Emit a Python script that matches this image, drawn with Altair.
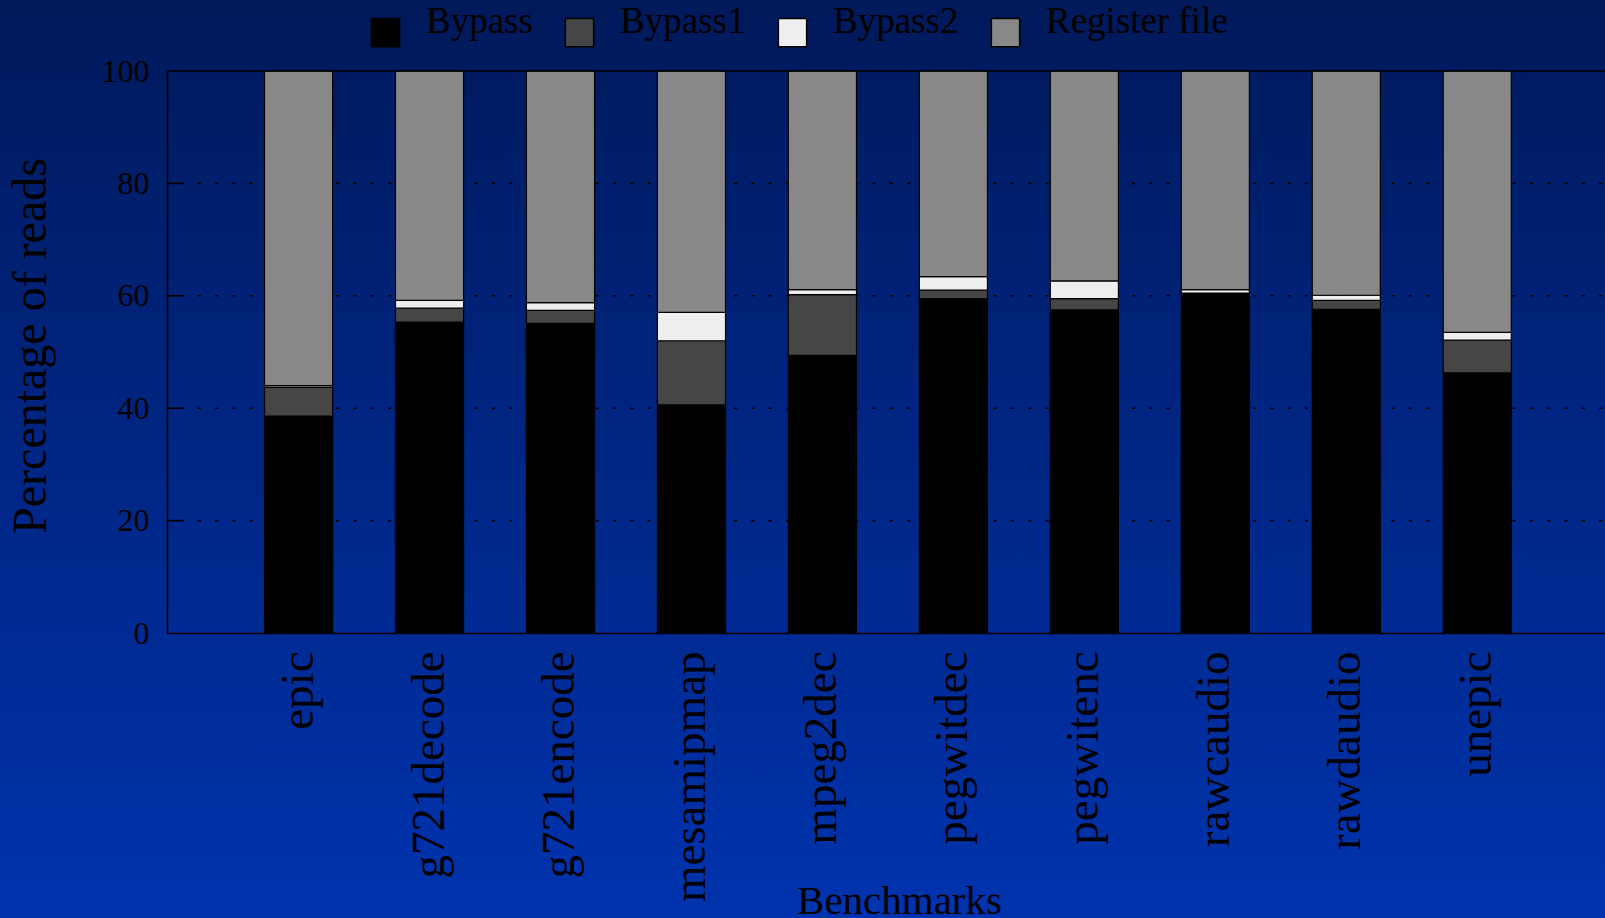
import altair as alt
import pandas as pd

benchmarks = ["epic", "g721decode", "g721encode", "mesamipmap", "mpeg2dec",
              "pegwitdec", "pegwitenc", "rawcaudio", "rawdaudio", "unepic"]
series = ["Bypass", "Bypass1", "Bypass2", "Register file"]
bypass = [38.6, 55.3, 55.1, 40.6, 49.4, 59.5, 57.5, 60.4, 57.6, 46.3]
bypass1 = [5.1, 2.5, 2.3, 11.4, 10.8, 1.5, 2.0, 0.1, 1.6, 5.8]
bypass2 = [0.3, 1.4, 1.4, 5.05, 0.9, 2.4, 3.15, 0.6, 0.9, 1.4]
register_file = [56.0, 40.8, 41.2, 42.95, 38.9, 36.6, 37.35, 38.9, 39.9, 46.5]
colors = ["#000000", "#464646", "#eeeeee", "#888888"]
grid_values = [20, 40, 60, 80]
y_ticks = [0, 20, 40, 60, 80, 100]

FONT = "Liberation Serif"
W, H = 1438, 562
PAD_L, PAD_T = 167, 71

rows = []
for s_i, (name, vals) in enumerate(zip(series, [bypass, bypass1, bypass2, register_file])):
    for b, v in zip(benchmarks, vals):
        rows.append({"benchmark": b, "series": name, "value": v, "order": s_i})
df = pd.DataFrame(rows)

bg = alt.Chart(pd.DataFrame({"a": [0]})).mark_rect(
    fill=alt.Gradient(
        gradient="linear",
        stops=[alt.GradientStop(color="#00195a", offset=0),
               alt.GradientStop(color="#0033ae", offset=1)],
        x1=0, x2=0, y1=0, y2=1,
    )
).encode(
    x=alt.value(-PAD_L), x2=alt.value(W + 5),
    y=alt.value(-PAD_T), y2=alt.value(918 - PAD_T),
)

grid_df = pd.DataFrame({"v": grid_values})
grid = alt.Chart(grid_df).mark_rule(
    color="black", strokeWidth=1.6, strokeDash=[3.3, 14], strokeDashOffset=14.6
).encode(y=alt.Y("v:Q", scale=alt.Scale(domain=[0, 100], nice=False)))

ticks = alt.Chart(grid_df).mark_rule(color="black", strokeWidth=1.6).encode(
    y=alt.Y("v:Q"), x=alt.value(0), x2=alt.value(15)
)

top_line = alt.Chart(pd.DataFrame({"v": [100]})).mark_rule(
    color="black", strokeWidth=1.6
).encode(y=alt.Y("v:Q"))

bars = alt.Chart(df).mark_bar(stroke="black", strokeWidth=1.2, opacity=1).encode(
    x=alt.X(
        "benchmark:N",
        sort=benchmarks,
        scale=alt.Scale(paddingInner=0.48, paddingOuter=0.73, align=0.51),
        axis=alt.Axis(
            title="Benchmarks", labelAngle=270, labelFontSize=47, labelFont=FONT,
            labelColor="black", labelPadding=18, ticks=False, domain=True,
            domainColor="black", domainWidth=1.6, titleFontSize=41, titleFont=FONT,
            titleFontWeight="normal", titleColor="black", titleX=732, titleY=280.4,
            titleBaseline="alphabetic", titleAlign="center", zindex=1,
            labelBaseline="middle", labelAlign="right", labelLimit=600,
        ),
    ),
    y=alt.Y(
        "value:Q",
        stack="zero",
        scale=alt.Scale(domain=[0, 100], nice=False),
        axis=alt.Axis(
            title="Percentage of reads", values=y_ticks, grid=False, ticks=False,
            labelFontSize=32, labelFont=FONT, labelColor="black", labelPadding=18,
            domainColor="black", domainWidth=1.6, titleFontSize=48,
            titleFont=FONT, titleFontWeight="normal", titleColor="black",
            titleAngle=270, titleX=-122, titleY=274.5, titleBaseline="alphabetic",
            titleAlign="center", zindex=1,
        ),
    ),
    color=alt.Color(
        "series:N",
        scale=alt.Scale(domain=series, range=colors),
        legend=alt.Legend(
            title=None, orient="none", legendX=200, legendY=-57, direction="horizontal",
            columns=4, symbolType="square", symbolSize=800, symbolStrokeColor="black",
            symbolStrokeWidth=1.5, symbolOpacity=1, labelFont=FONT, labelFontSize=37,
            labelColor="black", labelOffset=22, columnPadding=28, padding=0,
            labelBaseline="alphabetic", labelLimit=400,
        ),
    ),
    order=alt.Order("order:Q", sort="ascending"),
)

chart = alt.layer(bg, grid, bars, top_line, ticks).properties(
    width=W, height=H,
    autosize=alt.AutoSizeParams(type="none"),
    padding={"left": PAD_L, "top": PAD_T, "right": 0, "bottom": 918 - PAD_T - H},
    background="#0033ae",
).configure_view(stroke=None, fill=None).configure(font=FONT)

chart.save("out.html", embed_options={"renderer": "svg", "actions": False})
